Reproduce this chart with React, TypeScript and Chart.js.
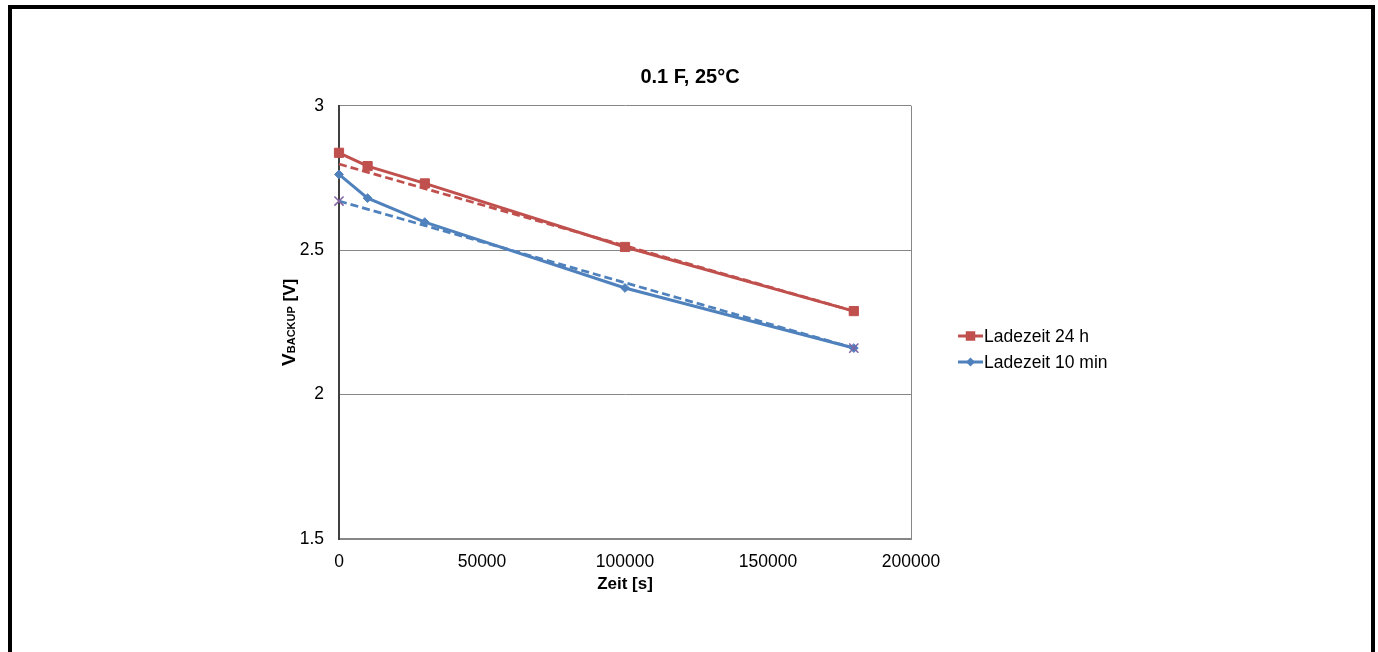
import React, { useEffect, useRef } from "react";
import { Chart, registerables } from "chart.js";

Chart.register(...registerables);

// ---- data ----
const timeSeconds = [0, 10000, 30000, 100000, 180000];
const charge24h = [2.837, 2.791, 2.731, 2.511, 2.289];
const charge10min = [2.762, 2.68, 2.597, 2.369, 2.161];
const trendTime = [0, 180000];
const trend24h = [2.798, 2.289];
const trend10min = [2.67, 2.161];
const xTickValues = [0, 50000, 100000, 150000, 200000];
const yTickValues = [1.5, 2, 2.5, 3];
const seriesLabels = ["Ladezeit 24 h", "Ladezeit 10 min"];
const chartTitle = "0.1 F, 25°C";

const RED = "#C0504D";
const BLUE = "#4F81BD";
const PURPLE = "#8064A2";
const FONT = "'Liberation Sans', Arial, Helvetica, sans-serif";

const pairs = (xs: number[], ys: number[]) => xs.map((x, i) => ({ x, y: ys[i] }));

const drawMarker = (ctx: CanvasRenderingContext2D, style: string, x: number, y: number, color: string) => {
  ctx.save();
  ctx.fillStyle = color;
  ctx.beginPath();
  if (style === "rect") {
    ctx.rect(x - 4.75, y - 4.75, 9.5, 9.5);
  } else {
    ctx.moveTo(x, y - 4.5);
    ctx.lineTo(x + 4.5, y);
    ctx.lineTo(x, y + 4.5);
    ctx.lineTo(x - 4.5, y);
    ctx.closePath();
  }
  ctx.fill();
  ctx.restore();
};

const extrasPlugin = {
  id: "extras",
  afterDraw(chart: any) {
    const ctx: CanvasRenderingContext2D = chart.ctx;
    const area = chart.chartArea;

    // chart title
    ctx.save();
    ctx.fillStyle = "#000";
    ctx.font = `bold 20px ${FONT}`;
    ctx.textAlign = "center";
    ctx.textBaseline = "middle";
    ctx.fillText(chartTitle, area.right - 221, area.top - 28.5);
    ctx.restore();

    // y-axis title with subscript
    ctx.save();
    ctx.fillStyle = "#000";
    ctx.textBaseline = "alphabetic";
    const parts = [
      { t: "V", f: `bold 19px ${FONT}` },
      { t: "BACKUP", f: `bold 11px ${FONT}` },
      { t: " [V]", f: `bold 17px ${FONT}` },
    ];
    let total = 0;
    const widths = parts.map((p) => {
      ctx.font = p.f;
      const w = ctx.measureText(p.t).width;
      total += w;
      return w;
    });
    ctx.translate(area.left - 51, (area.top + area.bottom) / 2);
    ctx.rotate(-Math.PI / 2);
    let cx = -total / 2;
    parts.forEach((p, i) => {
      ctx.font = p.f;
      ctx.fillText(p.t, cx, 7);
      cx += widths[i];
    });
    ctx.restore();

    // legend
    const entries = [
      { label: seriesLabels[0], color: RED, style: "rect" },
      { label: seriesLabels[1], color: BLUE, style: "diamond" },
    ];
    const lx = area.right + 47;
    entries.forEach((e, i) => {
      const y = 336 + i * 26;
      ctx.save();
      ctx.strokeStyle = e.color;
      ctx.lineWidth = 3;
      ctx.beginPath();
      ctx.moveTo(lx, y);
      ctx.lineTo(lx + 25, y);
      ctx.stroke();
      ctx.restore();
      drawMarker(ctx, e.style, lx + 12.5, y, e.color);
      ctx.save();
      ctx.fillStyle = "#000";
      ctx.font = `17.5px ${FONT}`;
      ctx.textBaseline = "middle";
      ctx.fillText(e.label, lx + 26, y + 1);
      ctx.restore();
    });
  },
};

export default function App() {
  const ref = useRef<HTMLCanvasElement>(null);

  useEffect(() => {
    const canvas = ref.current;
    if (!canvas) return;
    const chart = new Chart(canvas, {
      type: "line",
      data: {
        datasets: [
          {
            label: seriesLabels[0],
            data: pairs(timeSeconds, charge24h),
            borderColor: RED,
            backgroundColor: RED,
            borderWidth: 3,
            pointStyle: "rect",
            pointRadius: 6.5,
            pointBorderWidth: 1,
            pointBackgroundColor: RED,
            pointBorderColor: RED,
            clip: false,
            order: 4,
          },
          {
            label: seriesLabels[1],
            data: pairs(timeSeconds, charge10min),
            borderColor: BLUE,
            backgroundColor: BLUE,
            borderWidth: 3,
            pointStyle: "rectRot",
            pointRadius: 4.4,
            pointBorderWidth: 1,
            pointBackgroundColor: BLUE,
            pointBorderColor: BLUE,
            clip: false,
            order: 3,
          },
          {
            label: "Trend 24 h",
            data: pairs(trendTime, trend24h),
            borderColor: RED,
            borderWidth: 2.75,
            borderDash: [8, 4],
            pointRadius: 0,
            clip: false,
            order: 2,
          },
          {
            label: "Trend 10 min",
            data: pairs(trendTime, trend10min),
            borderColor: BLUE,
            borderWidth: 2.75,
            borderDash: [8, 4],
            pointStyle: "crossRot",
            pointRadius: 6.5,
            pointBorderWidth: 1.5,
            pointBorderColor: PURPLE,
            pointBackgroundColor: PURPLE,
            clip: false,
            order: 1,
          },
        ],
      },
      options: {
        responsive: false,
        animation: false,
        devicePixelRatio: 1,
        layout: { padding: { left: 0, right: 467, top: 105.7, bottom: 53 } },
        plugins: {
          legend: { display: false },
          tooltip: { enabled: false },
          title: { display: false },
        },
        scales: {
          x: {
            type: "linear",
            min: 0,
            max: 200000,
            afterBuildTicks: (s: any) => {
              s.ticks = xTickValues.map((v) => ({ value: v }));
            },
            afterFit: (s: any) => {
              s.height = 60;
            },
            ticks: {
              color: "#000",
              font: { family: FONT, size: 17.5 },
              padding: 12.5,
              maxRotation: 0,
              callback: (v: any) => String(v),
            },
            grid: {
              drawTicks: false,
              color: (c: any) => (c.tick && c.tick.value === 200000 ? "#868686" : "rgba(0,0,0,0)"),
              lineWidth: 1,
            },
            border: { display: true, color: "#868686", width: 2 },
            title: {
              display: true,
              text: "Zeit [s]",
              color: "#000",
              font: { family: FONT, size: 17, weight: "bold" },
              padding: { top: 0, bottom: 4 },
            },
          },
          y: {
            type: "linear",
            min: 1.5,
            max: 3,
            afterBuildTicks: (s: any) => {
              s.ticks = yTickValues.map((v) => ({ value: v }));
            },
            afterFit: (s: any) => {
              s.width = 339;
            },
            ticks: {
              color: "#000",
              font: { family: FONT, size: 17.5 },
              padding: 15,
              callback: (v: any) => String(v),
            },
            grid: {
              drawTicks: false,
              color: (c: any) => (c.tick && c.tick.value === 1.5 ? "rgba(0,0,0,0)" : "#868686"),
              lineWidth: 1,
            },
            border: { display: true, color: "#404040", width: 2 },
          },
        },
      },
      plugins: [extrasPlugin],
    } as any);
    return () => chart.destroy();
  }, []);

  return (
    <div
      style={{
        position: "absolute",
        left: 0,
        top: 0,
        width: 1378,
        height: 652,
        background: "#fff",
        overflow: "hidden",
      }}
    >
      <canvas ref={ref} width={1378} height={652} style={{ display: "block" }} />
      <div
        style={{
          position: "absolute",
          left: 8,
          top: 5,
          width: 1359,
          height: 700,
          border: "4px solid #000",
          borderBottom: "none",
          pointerEvents: "none",
        }}
      />
    </div>
  );
}
